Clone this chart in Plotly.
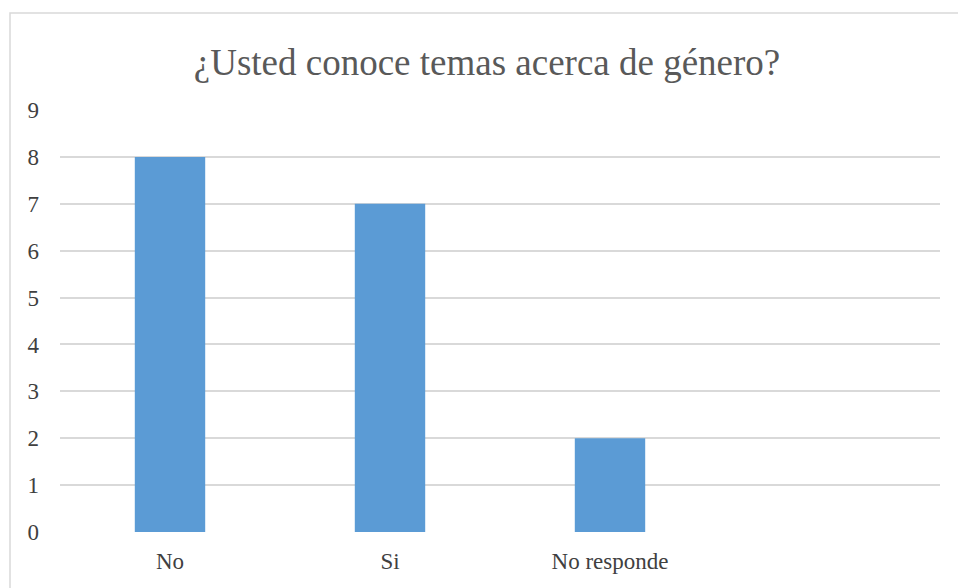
import plotly.graph_objects as go

# Survey answers
categories = ["No", "Si", "No responde"]
counts = [8, 7, 2]
y_ticks = [0, 1, 2, 3, 4, 5, 6, 7, 8, 9]

W, H = 958, 588
ml, mr, mt, mb = 60, 18, 110, 56
pw, ph = W - ml - mr, H - mt - mb
SERIF = "Liberation Serif, Times New Roman, DejaVu Serif, serif"

fig = go.Figure(
    go.Bar(
        x=list(range(len(categories))),
        y=counts,
        marker=dict(color="#5B9BD5", line=dict(width=0)),
        width=0.32,
        hoverinfo="skip",
    )
)

# outer chart-area frame, expressed in paper units
def px_x(p):
    return (p - ml) / pw

def px_y(p):
    return (H - mb - p) / ph

fig.add_shape(
    type="rect", xref="paper", yref="paper",
    x0=px_x(10), x1=px_x(965), y0=px_y(600), y1=px_y(13),
    line=dict(color="#D9D9D9", width=1.5), fillcolor="rgba(0,0,0,0)",
    layer="below",
)

fig.update_layout(
    width=W, height=H,
    margin=dict(l=ml, r=mr, t=mt, b=mb),
    paper_bgcolor="white", plot_bgcolor="white",
    showlegend=False,
    font=dict(family=SERIF, color="#595959"),
    title=dict(
        text="¿Usted conoce temas acerca de género?",
        x=487 / W, xanchor="center",
        y=1 - 62 / H, yanchor="middle",
        font=dict(size=37, color="#595959", family=SERIF),
    ),
    xaxis=dict(
        range=[-0.5, 3.5],
        tickmode="array",
        tickvals=list(range(len(categories))),
        ticktext=categories,
        showgrid=False, zeroline=False, showline=False,
        ticks="", tickfont=dict(size=23, color="#404040", family=SERIF),
        ticklabelstandoff=13,
    ),
    yaxis=dict(
        range=[0, 9],
        tickmode="array", tickvals=y_ticks,
        showgrid=True, gridcolor="#D9D9D9", gridwidth=1.5,
        zeroline=False, showline=False,
        ticks="", tickfont=dict(size=23, color="#404040", family=SERIF),
        ticklabelstandoff=20,
    ),
)

fig.write_html("out.html")
